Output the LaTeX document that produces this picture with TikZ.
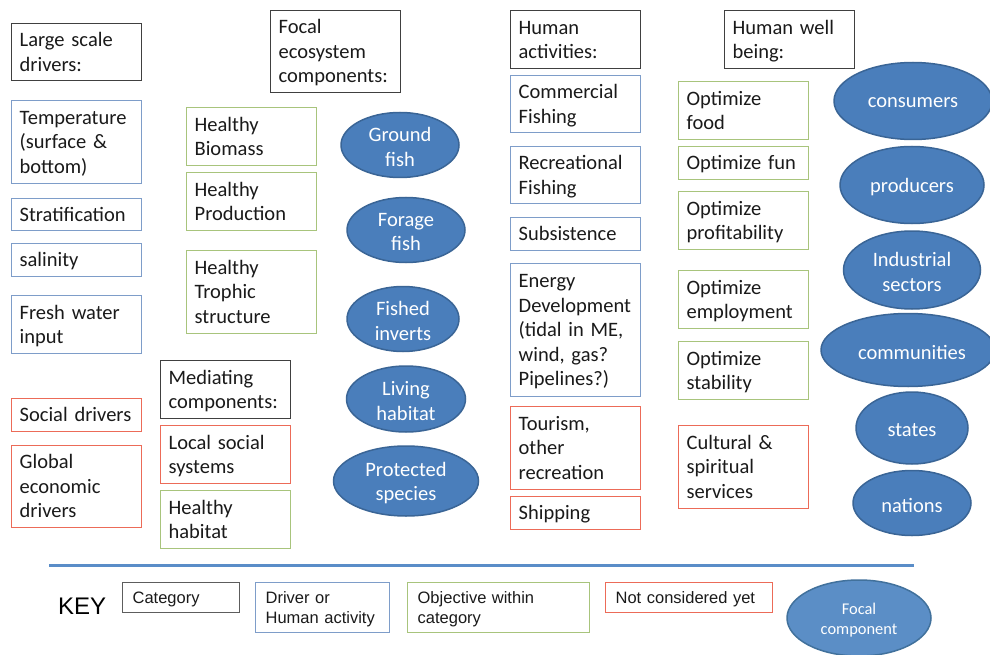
\documentclass[tikz,border=0pt]{standalone}
\usepackage{fontspec}
\setmainfont{Carlito}
\newfontfamily\arialf{Liberation Sans}
\usetikzlibrary{shapes.geometric}
\definecolor{catc}{HTML}{404040}
\definecolor{bluec}{HTML}{7E9DC9}
\definecolor{greenc}{HTML}{A8C47C}
\definecolor{redc}{HTML}{EC6B58}
\definecolor{ellf}{HTML}{4A7EBB}
\definecolor{elld}{HTML}{3A6596}
\definecolor{keyf}{HTML}{5B8EC6}
\definecolor{keyd}{HTML}{41719C}
\definecolor{linec}{HTML}{5A8DC8}
\definecolor{txtc}{HTML}{1A1A1A}
\newcommand\topstrut{\rule{0pt}{19pt}}
\newcommand\botstrut{\rule[-5.5pt]{0pt}{5.5pt}}
\newcommand\ktopstrut{\rule{0pt}{16pt}}
\newcommand\kbotstrut{\rule[-4pt]{0pt}{4pt}}
\begin{document}
\begin{tikzpicture}[x=1pt,y=-1pt,
 box/.style={draw, line width=1.3pt, anchor=north west, minimum width=130pt, text width=114pt, align=left, inner sep=0pt, text=txtc, font={\fontsize{20.5}{24.5}\selectfont\hyphenpenalty=10000}, execute at begin node=\topstrut, execute at end node=\botstrut},
 catbox/.style={box, draw=catc},
 drvbox/.style={box, draw=bluec},
 objbox/.style={box, draw=greenc},
 ncbox/.style={box, draw=redc},
 ell/.style={ellipse, draw=elld, fill=ellf, line width=1.5pt, inner sep=0pt},
 elltxt/.style={align=center, text=white, inner sep=0pt, yshift=-2pt, font={\fontsize{20.5}{24.5}\selectfont}},
 keybox/.style={draw, line width=1.3pt, anchor=north west, align=left, inner sep=0pt, text=txtc, font={\arialf\fontsize{16.5}{20}\selectfont\hyphenpenalty=10000}, execute at begin node=\ktopstrut, execute at end node=\kbotstrut},
]
\useasboundingbox (0,0) rectangle (990,655);
\fill[white] (0,0) rectangle (990,655);

% categories
\node[catbox, minimum height=57pt] (ls) at (11,23) {Large scale\\drivers:};
\node[catbox, minimum height=82pt] (fec) at (270,10) {Focal\\ecosystem\\components:};
\node[catbox, minimum height=58pt] (med) at (160,360) {Mediating\\components:};
\node[catbox, minimum height=58pt] (ha) at (510,10) {Human\\activities:};
\node[catbox, minimum height=58pt] (hwb) at (724,10) {Human well\\being:};

% drivers / activities
\node[drvbox, minimum height=83pt] (temp) at (11,100) {Temperature\\(surface \&\\bottom)};
\node[drvbox, minimum height=32pt] (strat) at (11,198) {Stratification};
\node[drvbox, minimum height=33pt] (sal) at (11,243) {salinity};
\node[drvbox, minimum height=58pt] (fw) at (11,295) {Fresh water\\input};
\node[drvbox, minimum height=57pt] (cf) at (510,75) {Commercial\\Fishing};
\node[drvbox, minimum height=57pt] (rf) at (510,146) {Recreational\\Fishing};
\node[drvbox, minimum height=33pt] (sub) at (510,217) {Subsistence};
\node[drvbox, minimum height=133pt] (en) at (510,263) {Energy\\Development\\(tidal in ME,\\wind, gas?\\Pipelines?)};

% not considered yet
\node[ncbox, minimum height=33pt] (soc) at (11,398) {Social drivers};
\node[ncbox, minimum height=82pt] (glob) at (11,445) {Global\\economic\\drivers};
\node[ncbox, minimum height=58pt] (lss) at (160,425) {Local social\\systems};
\node[ncbox, minimum height=83pt] (tour) at (510,406) {Tourism,\\other\\recreation};
\node[ncbox, minimum height=33pt] (ship) at (510,496) {Shipping};
\node[ncbox, minimum height=83pt] (cult) at (678,425) {Cultural \&\\spiritual\\services};

% objectives
\node[objbox, minimum height=58pt] (hb) at (186,107) {Healthy\\Biomass};
\node[objbox, minimum height=58pt] (hp) at (186,172) {Healthy\\Production};
\node[objbox, minimum height=83pt] (ht) at (186,250) {Healthy\\Trophic\\structure};
\node[objbox, minimum height=58pt] (hh) at (160,490) {Healthy\\habitat};
\node[objbox, minimum height=58pt] (of) at (678,81) {Optimize\\food};
\node[objbox, minimum height=33pt] (ofun) at (678,146) {Optimize fun};
\node[objbox, minimum height=58pt] (op) at (678,191) {Optimize\\profitability};
\node[objbox, minimum height=58pt] (oe) at (678,270) {Optimize\\employment};
\node[objbox, minimum height=58pt] (os) at (678,341) {Optimize\\stability};

% focal ellipses
\node[ell, minimum width=118pt, minimum height=65pt] (gf) at (400,145) {};
\node[elltxt] (gft) at (gf.center) {Ground\\fish};
\node[ell, minimum width=118pt, minimum height=65pt] (ff) at (406,230) {};
\node[elltxt] (fft) at (ff.center) {Forage\\fish};
\node[ell, minimum width=112pt, minimum height=65pt] (fi) at (403,319) {};
\node[elltxt] (fit) at (fi.center) {Fished\\inverts};
\node[ell, minimum width=119pt, minimum height=66pt] (lh) at (406,399) {};
\node[elltxt] (lht) at (lh.center) {Living\\habitat};
\node[ell, minimum width=145pt, minimum height=70pt] (ps) at (406,481) {};
\node[elltxt] (pst) at (ps.center) {Protected\\species};

\node[ell, minimum width=158pt, minimum height=77pt] (cons) at (913,101) {};
\node[elltxt] (const) at (cons.center) {consumers};
\node[ell, minimum width=144pt, minimum height=77pt] (prod) at (912,185) {};
\node[elltxt] (prodt) at (prod.center) {producers};
\node[ell, minimum width=137pt, minimum height=78pt] (ind) at (912,270) {};
\node[elltxt] (indt) at (ind.center) {Industrial\\sectors};
\node[ell, minimum width=174pt, minimum height=73pt] (comm) at (908,350) {};
\node[elltxt] (commt) at (912,350) {communities};
\node[ell, minimum width=112pt, minimum height=72pt] (states) at (912,428) {};
\node[elltxt] (statest) at (states.center) {states};
\node[ell, minimum width=118pt, minimum height=65pt] (nat) at (912,503) {};
\node[elltxt] (natt) at (nat.center) {nations};

% separator
\coordinate (l1) at (49,565);
\coordinate (l2) at (914,565);
\draw[linec, line width=3pt] (l1) -- (l2);

% key
\node[anchor=west, inner sep=0pt, text=black, font={\arialf\fontsize{24}{28}\selectfont}] (key) at (58,606) {KEY};
\node[keybox, draw=catc!85, minimum width=117pt, minimum height=30pt, text width=97pt] (kcat) at (122,582) {Category};
\node[keybox, draw=bluec, minimum width=134pt, minimum height=50pt, text width=114pt] (kdrv) at (255,582) {Driver or\\Human activity};
\node[keybox, draw=greenc, minimum width=182pt, minimum height=50pt, text width=162pt] (kobj) at (407,582) {Objective within\\category};
\node[keybox, draw=redc, minimum width=167pt, minimum height=30pt, text width=147pt] (knc) at (605,582) {Not considered yet};
\node[ellipse, draw=keyd, fill=keyf, line width=1.5pt, inner sep=0pt, minimum width=144pt, minimum height=76pt] (kell) at (859,618) {};
\node[align=center, text=white, inner sep=0pt, yshift=-2pt, font={\fontsize{16.4}{20}\selectfont}] (kellt) at (kell.center) {Focal\\component};
\end{tikzpicture}
\end{document}
